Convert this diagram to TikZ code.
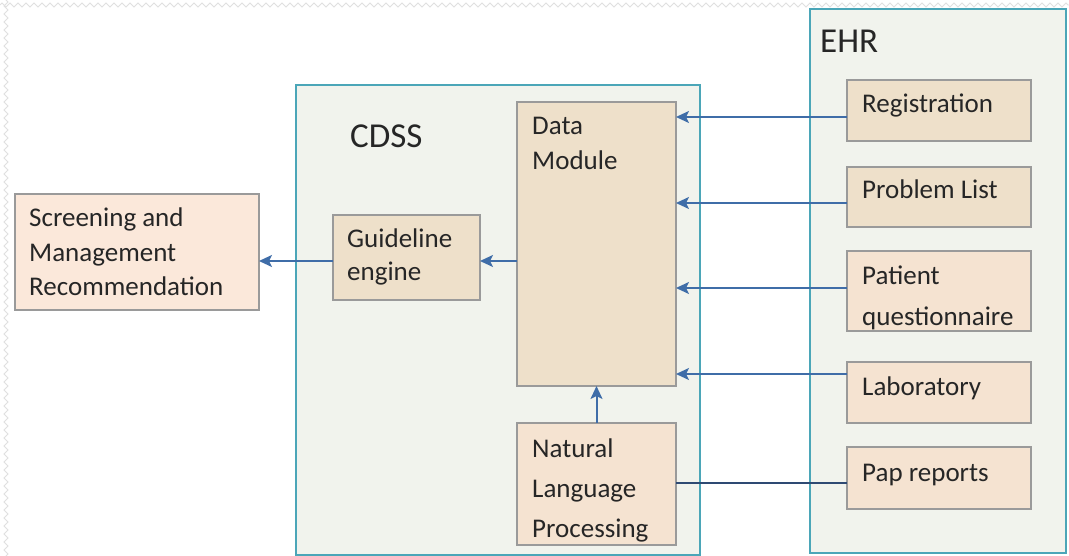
\documentclass[tikz,border=0pt]{standalone}
\usepackage{fontspec}
\setmainfont{Carlito}
\usetikzlibrary{arrows.meta,decorations.pathmorphing}
\definecolor{contfill}{HTML}{F1F3ED}
\definecolor{contline}{HTML}{4BA6B8}
\definecolor{beige}{HTML}{EEE0CA}
\definecolor{peach}{HTML}{F5E3D1}
\definecolor{pink}{HTML}{FBE8DA}
\definecolor{boxline}{HTML}{9A9A9A}
\definecolor{arrcol}{HTML}{3F6DA8}
\definecolor{darkline}{HTML}{2E4A73}
\definecolor{txtcol}{HTML}{262626}
\definecolor{zzcol}{HTML}{E0E0E0}
\begin{document}
\begin{tikzpicture}[x=1pt,y=-1pt,
  container/.style={draw=contline,line width=1.6pt,fill=contfill,anchor=north west,inner sep=0,outer sep=0},
  box/.style={draw=boxline,line width=1.2pt,anchor=north west,inner sep=0,outer sep=0},
  txt/.style={font=\fontsize{27}{33}\selectfont,text=txtcol,inner sep=0,anchor=base west},
  head/.style={font=\fontsize{35}{42}\selectfont,text=txtcol,inner sep=0,anchor=base west},
  arr/.style={draw=arrcol,line width=2pt,-{Stealth[length=13pt,width=12pt,inset=3pt]}},
  plainline/.style={draw=darkline,line width=1.8pt},
  zz/.style={draw=zzcol,line width=0.8pt,decorate,decoration={zigzag,segment length=8pt,amplitude=2pt}}]
\useasboundingbox (0,0) rectangle (1069,556);
\fill[white] (0,0) rectangle (1069,556);
\draw[zz] (0,5) -- (1069,5);
\draw[zz] (6,0) -- (6,556);

% containers
\node[container,minimum width=404,minimum height=470] (cdss) at (296,85) {};
\node[container,minimum width=256,minimum height=544] (ehr) at (810,9) {};
\node[head] (cdsslbl) at (350,148) {CDSS};
\node[head] (ehrlbl) at (820,53) {EHR};

% CDSS boxes
\node[box,fill=beige,minimum width=159,minimum height=284] (dm) at (517,102) {};
\node[txt] (dm1) at (532,135) {Data};
\node[txt] (dm2) at (532,170) {Module};

\node[box,fill=beige,minimum width=147,minimum height=85] (gl) at (333,215) {};
\node[txt] (gl1) at (347,248) {Guideline};
\node[txt] (gl2) at (347,280) {engine};

\node[box,fill=peach,minimum width=159,minimum height=122] (nlp) at (517,423) {};
\node[txt] (nlp1) at (532,457) {Natural};
\node[txt] (nlp2) at (532,497) {Language};
\node[txt] (nlp3) at (532,537) {Processing};

% output box
\node[box,fill=pink,minimum width=244,minimum height=116] (scr) at (15,194) {};
\node[txt] (scr1) at (29,227) {Screening and};
\node[txt] (scr2) at (29,262) {Management};
\node[txt] (scr3) at (29,296) {Recommendation};

% EHR items
\node[box,fill=beige,minimum width=184,minimum height=61] (reg) at (847,80) {};
\node[txt] (reg1) at (862,113) {Registration};
\node[box,fill=beige,minimum width=184,minimum height=60] (pl) at (847,167) {};
\node[txt] (pl1) at (862,199) {Problem List};
\node[box,fill=peach,minimum width=184,minimum height=80] (pq) at (847,251) {};
\node[txt] (pq1) at (862,285) {Patient};
\node[txt] (pq2) at (862,325) {questionnaire};
\node[box,fill=peach,minimum width=184,minimum height=61] (lab) at (847,362) {};
\node[txt] (lab1) at (862,395) {Laboratory};
\node[box,fill=peach,minimum width=184,minimum height=62] (pap) at (847,447) {};
\node[txt] (pap1) at (862,481) {Pap reports};

% connectors
\coordinate (c1) at ([yshift=-6.5pt]reg.west);
\coordinate (c2) at ([yshift=-6pt]pl.west);
\coordinate (c3) at ([yshift=3pt]pq.west);
\coordinate (c4) at ([yshift=18.5pt]lab.west);
\coordinate (c5) at ([yshift=-5pt]pap.west);
\draw[arr] (c1) -- (c1 -| dm.east);
\draw[arr] (c2) -- (c2 -| dm.east);
\draw[arr] (c3) -- (c3 -| dm.east);
\draw[arr] (c4) -- (c4 -| dm.east);
\draw[plainline] (c5) -- (c5 -| nlp.east);
\draw[arr] (nlp.north) -- (dm.south);
\coordinate (d1) at ([yshift=-3.5pt]gl.east);
\draw[arr] (d1 -| dm.west) -- (d1);
\coordinate (g1) at ([yshift=-3.5pt]gl.west);
\draw[arr] (g1) -- (g1 -| scr.east);
\end{tikzpicture}
\end{document}
